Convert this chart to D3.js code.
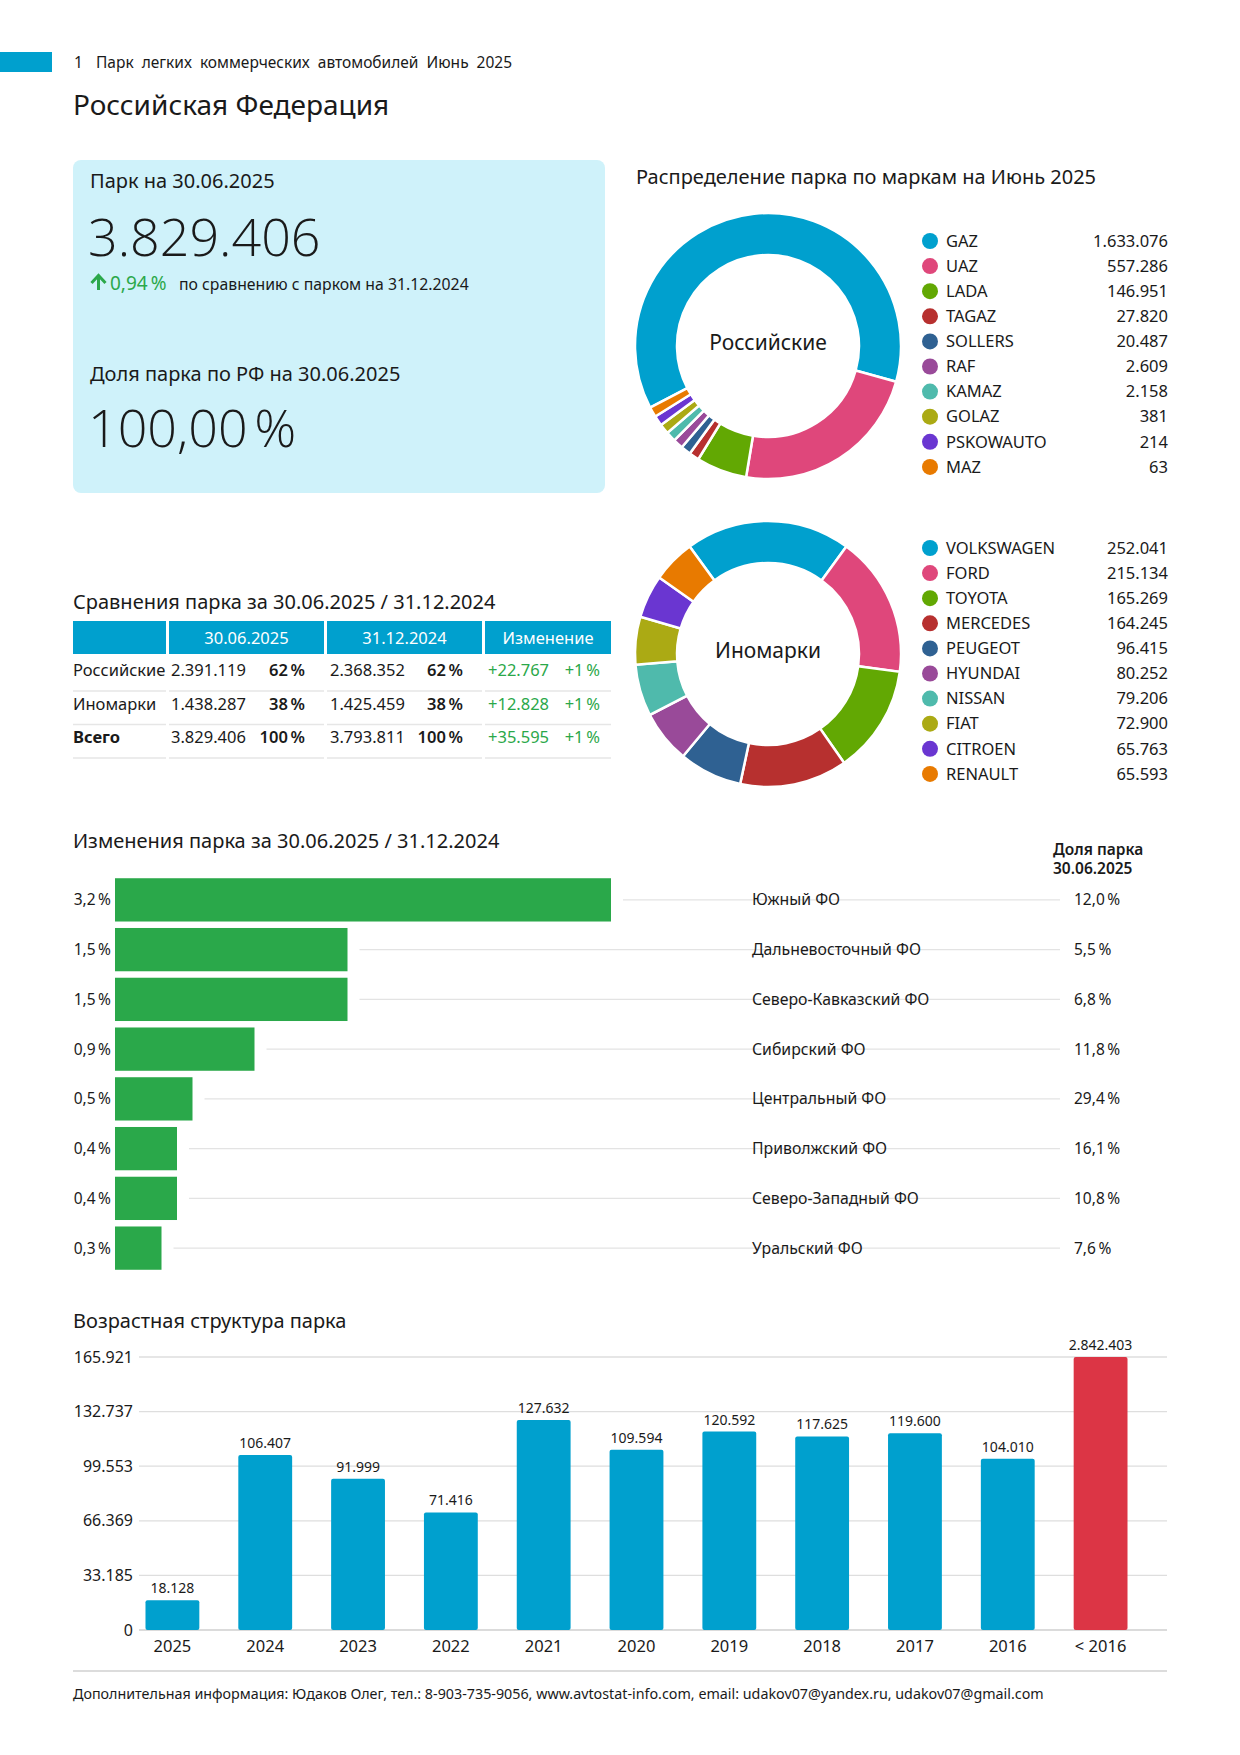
<!DOCTYPE html>
<html><head><meta charset="utf-8">
<script src="https://cdn.jsdelivr.net/npm/d3@7"></script>
<style>
html,body{margin:0;padding:0;background:#fff;}
svg{display:block;font-family:"Noto Sans","Open Sans",sans-serif;}
</style></head>
<body>
<svg id="c" width="1240" height="1755"></svg>
<script>
// ---------- DATA ----------
const brandsRu = ["GAZ","UAZ","LADA","TAGAZ","SOLLERS","RAF","KAMAZ","GOLAZ","PSKOWAUTO","MAZ"];
const valuesRu = [1633076,557286,146951,27820,20487,2609,2158,381,214,63];
const brandsForeign = ["VOLKSWAGEN","FORD","TOYOTA","MERCEDES","PEUGEOT","HYUNDAI","NISSAN","FIAT","CITROEN","RENAULT"];
const valuesForeign = [252041,215134,165269,164245,96415,80252,79206,72900,65763,65593];
const palette = ["#00A0CE","#DF477B","#62A803","#B7302F","#2F6192","#994A99","#4FBAAC","#ABAA14","#6A36D1","#E87A00"];

const tableGroups = ["Российские","Иномарки","Всего"];
const tableCur = [2391119,1438287,3829406];
const tableCurPct = [62,38,100];
const tablePrev = [2368352,1425459,3793811];
const tablePrevPct = [62,38,100];
const tableDelta = [22767,12828,35595];
const tableDeltaPct = [1,1,1];
const tableHeaders = ["","30.06.2025","31.12.2024","Изменение"];

const regions = ["Южный ФО","Дальневосточный ФО","Северо-Кавказский ФО","Сибирский ФО","Центральный ФО","Приволжский ФО","Северо-Западный ФО","Уральский ФО"];
const regionChange = [3.2,1.5,1.5,0.9,0.5,0.4,0.4,0.3];
const regionShare = [12.0,5.5,6.8,11.8,29.4,16.1,10.8,7.6];

const ageYears = ["2025","2024","2023","2022","2021","2020","2019","2018","2017","2016","< 2016"];
const ageValues = [18128,106407,91999,71416,127632,109594,120592,117625,119600,104010,2842403];
const ageTicks = [0,33185,66369,99553,132737,165921];

const parkTotal = 3829406;
const parkGrowth = 0.94;
const parkShare = 100.00;

// ---------- HELPERS ----------
const loc = d3.formatLocale({decimal:",",thousands:".",grouping:[3],currency:["",""]});
const fInt = loc.format(",d");
const f1 = loc.format(".1f");
const f2 = loc.format(".2f");
const NB = "\u202F";
const svg = d3.select("#c");
const TXT = "#1a1a1a";
const BLUE = "#00A0CE";
const GREEN = "#2BA84A";

// ---------- HEADER ----------
svg.append("rect").attr("x",0).attr("y",52).attr("width",52).attr("height",20).attr("fill",BLUE);
svg.append("text").attr("x",74).attr("y",68).attr("font-size",15.5).attr("fill",TXT).text("1");
svg.append("text").attr("x",96).attr("y",68).attr("font-size",15.5).attr("fill",TXT).attr("word-spacing",4).text("Парк легких коммерческих автомобилей Июнь 2025");
svg.append("text").attr("x",73).attr("y",115).attr("font-size",28).attr("fill",TXT).text("Российская Федерация");

// ---------- KPI BOX ----------
svg.append("rect").attr("x",73).attr("y",160).attr("width",532).attr("height",333).attr("rx",8).attr("fill","#CFF2FA");
svg.append("text").attr("x",90).attr("y",188).attr("font-size",20).attr("fill",TXT).text("Парк на 30.06.2025");
svg.append("text").attr("x",88).attr("y",256).attr("font-size",52).attr("font-family","'Open Sans',sans-serif").attr("font-weight",300).attr("fill",TXT).text(fInt(parkTotal));
// up arrow icon
svg.append("path").attr("d","M98.5,290 L98.5,276 M91.5,283 L98.5,275.5 L105.5,283")
  .attr("fill","none").attr("stroke",GREEN).attr("stroke-width",3).attr("stroke-linecap","butt").attr("stroke-linejoin","miter");
svg.append("text").attr("x",110).attr("y",290).attr("font-size",19).attr("fill",GREEN).text(f2(parkGrowth)+NB+"%");
svg.append("text").attr("x",179).attr("y",290).attr("font-size",15.8).attr("fill",TXT).text("по сравнению с парком на 31.12.2024");
svg.append("text").attr("x",90).attr("y",381).attr("font-size",20).attr("fill",TXT).text("Доля парка по РФ на 30.06.2025");
svg.append("text").attr("x",88).attr("y",447).attr("font-size",52).attr("font-family","'Open Sans',sans-serif").attr("font-weight",300).attr("fill",TXT).text(f2(parkShare)+NB+"%");

// ---------- DONUTS ----------
svg.append("text").attr("x",636).attr("y",184).attr("font-size",20).attr("fill",TXT).text("Распределение парка по маркам на Июнь 2025");

function donut(names, values, cx, cy, label, legendY, rotateDeg){
  const total = d3.sum(values);
  const minFrac = 4.4/360;
  // small slices raised to a minimum visible size, taken from the largest slice
  const raised = values.map(v => Math.max(v, minFrac*total));
  const extra = d3.sum(raised) - total;
  const adj = raised.map((v,i) => i===0 ? v - extra : v);
  const firstAngle = adj[0]/total*2*Math.PI;
  const rot = rotateDeg*Math.PI/180;
  const pie = d3.pie().sort(null).value(d=>d).startAngle(-firstAngle/2+rot).endAngle(2*Math.PI-firstAngle/2+rot);
  const arc = d3.arc().innerRadius(91).outerRadius(133);
  const g = svg.append("g").attr("transform",`translate(${cx},${cy})`);
  g.selectAll("path").data(pie(adj)).join("path")
    .attr("d",arc).attr("fill",(d,i)=>palette[i]).attr("stroke","#fff").attr("stroke-width",2.5);
  g.append("text").attr("text-anchor","middle").attr("dy","0.2em").attr("font-size",21).attr("fill",TXT).text(label);
  const lg = svg.append("g");
  names.forEach((n,i)=>{
    const y = legendY + i*25.1;
    lg.append("circle").attr("cx",930).attr("cy",y).attr("r",8).attr("fill",palette[i]);
    lg.append("text").attr("x",946).attr("y",y).attr("dy","0.35em").attr("font-size",16.5).attr("fill",TXT).text(n);
    lg.append("text").attr("x",1168).attr("y",y).attr("dy","0.35em").attr("text-anchor","end").attr("font-size",16.5).attr("fill",TXT).text(fInt(values[i]));
  });
}
donut(brandsRu, valuesRu, 768, 346, "Российские", 241, -6);
donut(brandsForeign, valuesForeign, 768, 654, "Иномарки", 548, 0);

// ---------- TABLE ----------
svg.append("text").attr("x",73).attr("y",609).attr("font-size",20).attr("fill",TXT).text("Сравнения парка за 30.06.2025 / 31.12.2024");
const colX = [73,169,327,485];
const colW = [93,155,155,126];
tableHeaders.forEach((h,i)=>{
  svg.append("rect").attr("x",colX[i]).attr("y",621).attr("width",colW[i]).attr("height",33).attr("fill",BLUE);
  svg.append("text").attr("x",colX[i]+colW[i]/2).attr("y",638).attr("dy","0.35em").attr("text-anchor","middle").attr("font-size",16.5).attr("fill","#fff").text(h);
});
tableGroups.forEach((g,r)=>{
  const y = 676 + r*33.5;
  svg.append("text").attr("x",73).attr("y",y).attr("font-size",16.5).attr("font-weight",r===2?700:400).attr("fill",TXT).text(g);
  svg.append("text").attr("x",171).attr("y",y).attr("font-size",16.5).attr("fill",TXT).text(fInt(tableCur[r]));
  svg.append("text").attr("x",305).attr("y",y).attr("text-anchor","end").attr("font-size",16.5).attr("font-weight",600).attr("fill",TXT).text(tableCurPct[r]+NB+"%");
  svg.append("text").attr("x",330).attr("y",y).attr("font-size",16.5).attr("fill",TXT).text(fInt(tablePrev[r]));
  svg.append("text").attr("x",463).attr("y",y).attr("text-anchor","end").attr("font-size",16.5).attr("font-weight",600).attr("fill",TXT).text(tablePrevPct[r]+NB+"%");
  svg.append("text").attr("x",488).attr("y",y).attr("font-size",16.5).attr("fill",GREEN).text("+"+fInt(tableDelta[r]));
  svg.append("text").attr("x",600).attr("y",y).attr("text-anchor","end").attr("font-size",16.5).attr("fill",GREEN).text("+"+tableDeltaPct[r]+NB+"%");
  colX.forEach((cx,i)=>{
    svg.append("line").attr("x1",cx).attr("x2",cx+colW[i]).attr("y1",y+15).attr("y2",y+15).attr("stroke","#e6e6e6").attr("stroke-width",1.5);
  });
});

// ---------- REGION CHANGES ----------
svg.append("text").attr("x",73).attr("y",848).attr("font-size",20).attr("fill",TXT).text("Изменения парка за 30.06.2025 / 31.12.2024");
svg.append("text").attr("x",1053).attr("y",855).attr("font-size",15.5).attr("font-weight",600).attr("fill",TXT).text("Доля парка");
svg.append("text").attr("x",1053).attr("y",874).attr("font-size",15.5).attr("font-weight",600).attr("fill",TXT).text("30.06.2025");
const xr = d3.scaleLinear().domain([0,3.2]).range([115,611]);
const yr = d3.scaleBand().domain(regions).range([875,1273]).paddingInner(0.13).paddingOuter(0.065);
regions.forEach((r,i)=>{
  const cy = yr(r)+yr.bandwidth()/2;
  svg.append("line").attr("x1",xr(regionChange[i])+12).attr("x2",1060).attr("y1",cy).attr("y2",cy).attr("stroke","#e3e3e3").attr("stroke-width",1.2);
  svg.append("rect").attr("x",xr(0)).attr("y",yr(r)).attr("width",xr(regionChange[i])-xr(0)).attr("height",yr.bandwidth()).attr("fill","#2AA84A");
  svg.append("text").attr("x",111).attr("y",cy).attr("dy","0.35em").attr("text-anchor","end").attr("font-size",15.5).attr("fill",TXT).text(f1(regionChange[i])+NB+"%");
  svg.append("text").attr("x",752).attr("y",cy).attr("dy","0.35em").attr("font-size",15.8).attr("fill",TXT).text(r);
  svg.append("text").attr("x",1074).attr("y",cy).attr("dy","0.35em").attr("font-size",15.5).attr("fill",TXT).text(f1(regionShare[i])+NB+"%");
});

// ---------- AGE STRUCTURE ----------
svg.append("text").attr("x",73).attr("y",1328).attr("font-size",20).attr("fill",TXT).text("Возрастная структура парка");
const xa = d3.scaleBand().domain(ageYears).range([126,1147]).paddingInner(0.42).paddingOuter(0.21);
const ya = d3.scaleLinear().domain([0,165921]).range([1630,1357]).clamp(true);
const gy = svg.append("g");
ageTicks.forEach(t=>{
  gy.append("line").attr("x1",139).attr("x2",1167).attr("y1",ya(t)).attr("y2",ya(t)).attr("stroke",t===0?"#cfcfcf":"#dedede").attr("stroke-width",1.3);
  gy.append("text").attr("x",133).attr("y",ya(t)).attr("dy","0.35em").attr("text-anchor","end").attr("font-size",16).attr("fill",TXT).text(fInt(t));
});
const maxV = d3.max(ageValues);
svg.append("g").selectAll("rect").data(ageValues).join("rect")
  .attr("x",(d,i)=>xa(ageYears[i])).attr("width",xa.bandwidth())
  .attr("y",d=>ya(d)).attr("height",d=>ya(0)-ya(d))
  .attr("rx",2)
  .attr("fill",d=>d===maxV?"#DC3545":BLUE);
svg.append("g").selectAll("text").data(ageValues).join("text")
  .attr("x",(d,i)=>xa(ageYears[i])+xa.bandwidth()/2).attr("y",d=>ya(d)-7)
  .attr("text-anchor","middle").attr("font-size",14).attr("fill",TXT).text(d=>fInt(d));
svg.append("g").selectAll("text").data(ageYears).join("text")
  .attr("x",d=>xa(d)+xa.bandwidth()/2).attr("y",1652)
  .attr("text-anchor","middle").attr("font-size",16.5).attr("fill",TXT).text(d=>d);

// ---------- FOOTER ----------
svg.append("line").attr("x1",73).attr("x2",1167).attr("y1",1671).attr("y2",1671).attr("stroke","#d0d0d0").attr("stroke-width",1.3);
svg.append("text").attr("x",73).attr("y",1699).attr("font-size",14.3).attr("fill",TXT).text("Дополнительная информация: Юдаков Олег, тел.: 8-903-735-9056, www.avtostat-info.com, email: udakov07@yandex.ru, udakov07@gmail.com");
</script>
</body></html>
